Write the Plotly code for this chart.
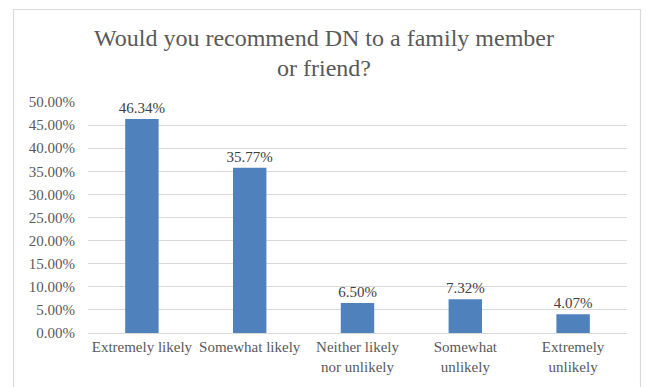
import plotly.graph_objects as go

categories = ["Extremely likely", "Somewhat likely", "Neither likely<br>nor unlikely", "Somewhat<br>unlikely", "Extremely<br>unlikely"]
values = [0.4634, 0.3577, 0.0650, 0.0732, 0.0407]
labels = ["46.34%", "35.77%", "6.50%", "7.32%", "4.07%"]
yticks = [i * 0.05 for i in range(11)]
yticklabels = ["%.2f%%" % (v * 100) for v in yticks]
title_lines = ["Would you recommend DN to a family member", "or friend?"]

W, H = 646, 387
L, R, T, B = 88, 19, 102, 54
PW, PH = W - L - R, H - T - B
SERIF = "Liberation Serif, Times New Roman, DejaVu Serif, serif"

fig = go.Figure(go.Bar(
    x=categories, y=values,
    marker=dict(color="#4F81BD", line=dict(width=0)),
    width=0.31,
    text=labels, textposition="outside",
    textfont=dict(family=SERIF, size=15, color="#404040"),
    constraintext="none",
    cliponaxis=False,
    hoverinfo="skip",
))

def py(px):  # pixel from top of figure -> paper y
    return 1 + (T - px) / PH

def px_x(px):  # pixel from left -> paper x
    return (px - L) / PW

for line, yc in zip(title_lines, [38, 68]):
    fig.add_annotation(text=line, xref="paper", yref="paper",
                       x=px_x(W / 2 + 1), y=py(yc), xanchor="center", yanchor="middle",
                       showarrow=False,
                       font=dict(family=SERIF, size=24, color="#595959"))

fig.update_layout(
    width=W, height=H,
    margin=dict(l=L, r=R, t=T, b=B, autoexpand=False),
    paper_bgcolor="white", plot_bgcolor="white",
    showlegend=False,
    font=dict(family=SERIF, size=15, color="#595959"),
    xaxis=dict(
        showgrid=False, showline=True, linecolor="#D9D9D9", linewidth=1,
        ticks="", tickfont=dict(family=SERIF, size=15, color="#595959"),
        automargin=False, fixedrange=True,
    ),
    yaxis=dict(
        range=[0, 0.5], tickvals=yticks, ticktext=yticklabels,
        showgrid=True, gridcolor="#D9D9D9", gridwidth=1,
        zeroline=False, showline=False, ticks="",
        tickfont=dict(family=SERIF, size=15, color="#595959"),
        ticklabelstandoff=12, automargin=False, fixedrange=True,
    ),
    bargap=0.69,
)

# outer chart border (open at bottom, as in the reference)
bx0, bx1, by0, by1 = px_x(13.5), px_x(640.5), py(H + 5), py(9.5)
border = dict(color="#D9D9D9", width=1.2)
fig.add_shape(type="line", xref="paper", yref="paper", x0=bx0, x1=bx0, y0=by0, y1=by1, line=border)
fig.add_shape(type="line", xref="paper", yref="paper", x0=bx1, x1=bx1, y0=by0, y1=by1, line=border)
fig.add_shape(type="line", xref="paper", yref="paper", x0=bx0, x1=bx1, y0=by1, y1=by1, line=border)

fig.write_html("out.html",
               config={"displayModeBar": False, "staticPlot": True},
               post_script="document.body.style.margin='0';document.body.style.overflow='hidden';")
